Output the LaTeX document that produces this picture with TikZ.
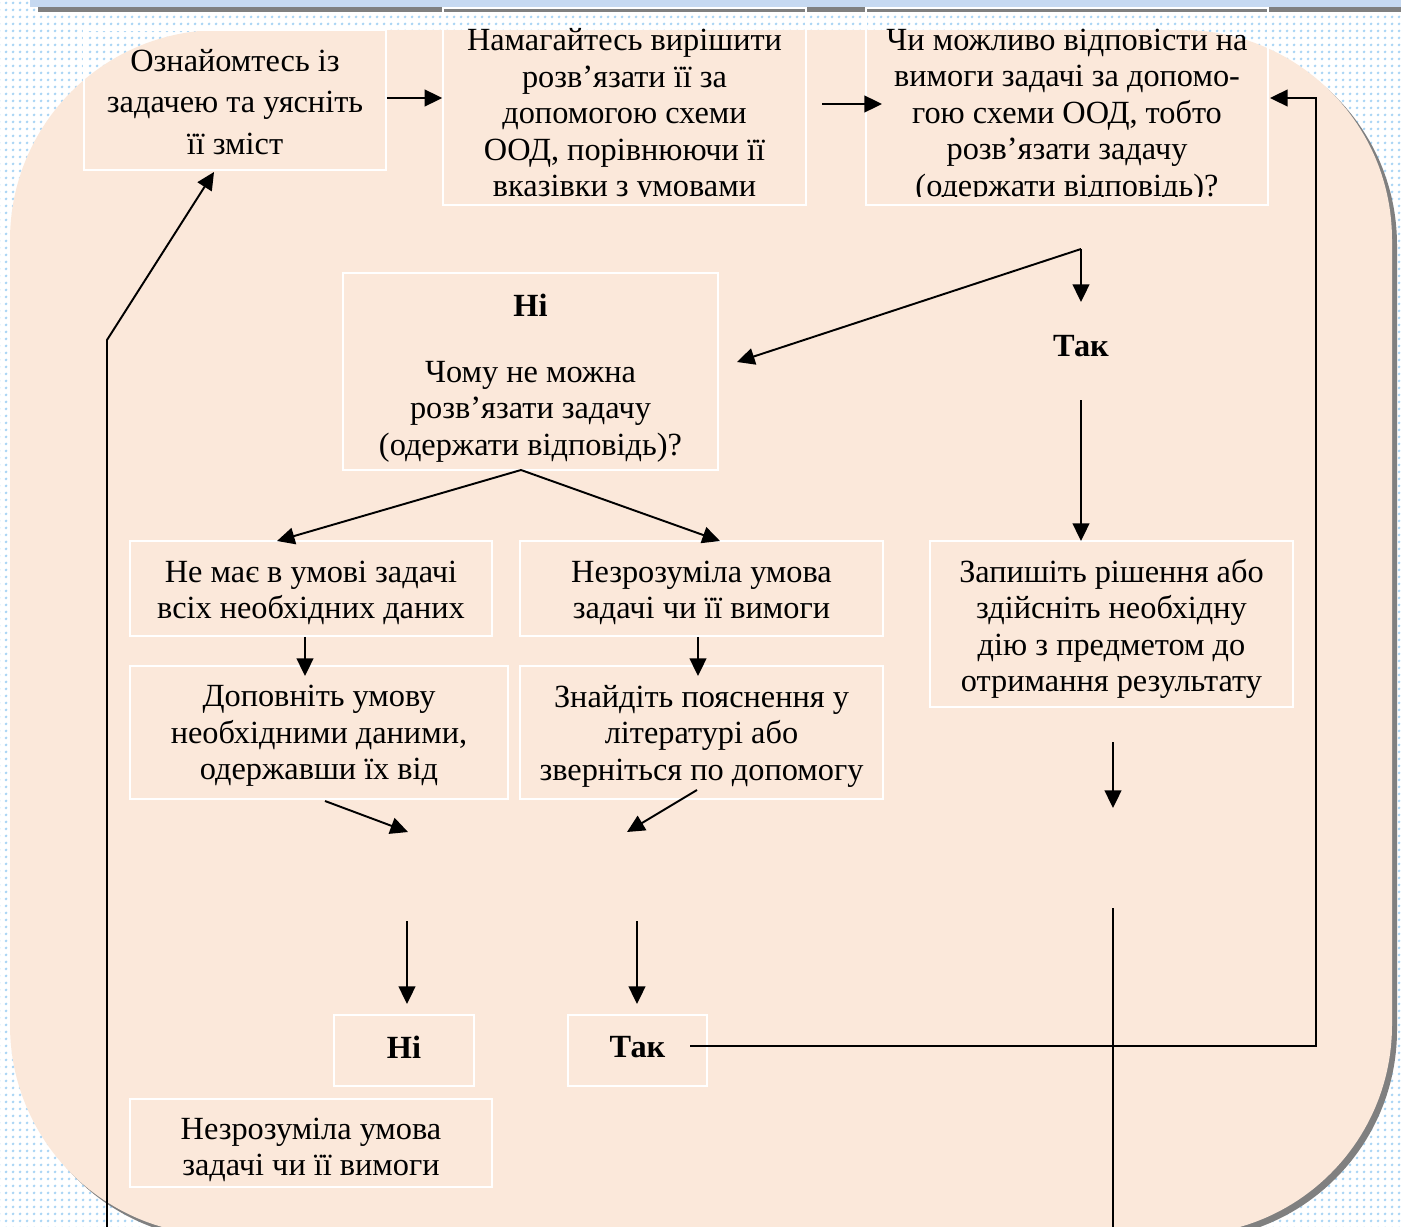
\documentclass[tikz,border=0pt]{standalone}
\usepackage{fontspec}
\setmainfont{Liberation Serif}
\usetikzlibrary{arrows.meta,patterns.meta}

\definecolor{peach}{HTML}{FBE8DA}
\definecolor{dotblue}{HTML}{A9D5F5}
\definecolor{barblue}{HTML}{C6D9F1}
\definecolor{bargrey}{HTML}{808080}

\tikzset{
  box/.style={draw=white, line width=0.9pt, inner sep=0pt},
  txt/.style={font=\fontsize{18.4}{20.8}\selectfont, align=center, inner sep=0pt, text=black},
  arr/.style={line width=1.1pt, -{Triangle[length=10pt,width=9.5pt]}},
  ln/.style={line width=1pt}
}

\begin{document}
\begin{tikzpicture}[x=0.02cm, y=-0.02cm]
            \useasboundingbox (0,0) rectangle (1401,1227);
            \clip (0,0) rectangle (1401,1227);

            % тло з крапками
            \fill[white] (0,0) rectangle (1401,1227);
            \fill[pattern={Dots[distance=4pt,radius=0.95pt]}, pattern color=dotblue] (0,0) rectangle (1401,1227);

            % смуги вгорі
            \fill[barblue] (30,0) rectangle (1401,7);
            \fill[bargrey] (38,7) rectangle (1401,11.5);

            % велика заокруглена панель з тінню
            \fill[bargrey, rounded corners=4.2cm] (15,35) rectangle (1397,1240);
            \fill[peach, rounded corners=4.2cm] (10,30) rectangle (1392,1235);

            % рамки
            \node[box, minimum width=6.04cm, minimum height=2.8cm] (read) at (235,100) {};
            \node[box, minimum width=7.26cm, minimum height=3.94cm] (try) at (624.5,106.5) {};
            \node[box, minimum width=8.04cm, minimum height=3.94cm] (ask) at (1067,106.5) {};
            \node[box, minimum width=7.5cm, minimum height=3.94cm] (why) at (530.5,371.5) {};
            \node[box, minimum width=7.24cm, minimum height=1.9cm] (lack) at (311,588.5) {};
            \node[box, minimum width=7.26cm, minimum height=1.9cm] (vague) at (701.5,588.5) {};
            \node[box, minimum width=7.56cm, minimum height=2.66cm] (add) at (319,732.5) {};
            \node[box, minimum width=7.26cm, minimum height=2.66cm] (find) at (701.5,732.5) {};
            \node[box, minimum width=7.26cm, minimum height=3.32cm] (write) at (1111.5,624) {};
            \node[box, minimum width=2.8cm, minimum height=1.42cm] (no) at (404,1050.5) {};
            \node[box, minimum width=2.78cm, minimum height=1.42cm] (yes) at (637.5,1050.5) {};
            \node[box, minimum width=7.24cm, minimum height=1.76cm] (vaguetwo) at (311,1143) {};

            % тексти
            \node[txt, font=\fontsize{18.4}{23.5}\selectfont] (readtxt) at (235,102) {Ознайомтесь із\\задачею та уясніть\\її зміст};
            \begin{scope}
              \clip (443,8) rectangle (806,196);
              \node[txt] (trytxt) at (624.5,116) {Намагайтесь вирішити\\розв’язати її за\\допомогою схеми\\ООД, порівнюючи її\\вказівки з умовами};
            \end{scope}
            \begin{scope}
              \clip (866,8) rectangle (1268,196);
              \node[txt] (asktxt) at (1067,116) {Чи можливо відповісти на\\вимоги задачі за допомо-\\гою схеми ООД, тобто\\розв’язати задачу\\(одержати відповідь)?};
            \end{scope}
            \begin{scope}
              \clip (343,273) rectangle (718,470);
              \node[txt] (whytxt) at (530.5,378) {\textbf{Ні}\\[17pt]Чому не можна\\розв’язати задачу\\(одержати відповідь)?};
            \end{scope}
            \node[txt, font=\fontsize{18.4}{20.8}\selectfont\bfseries] (sotxt) at (1081,346) {Так};
            \node[txt] (lacktxt) at (311,593) {Не має в умові задачі\\всіх необхідних даних};
            \node[txt] (vaguetxt) at (701.5,593) {Незрозуміла умова\\задачі чи її вимоги};
            \node[txt] (addtxt) at (319,736) {Доповніть умову\\необхідними даними,\\одержавши їх від};
            \node[txt] (findtxt) at (701.5,736) {Знайдіть пояснення у\\літературі або\\зверніться по допомогу};
            \node[txt] (writetxt) at (1111.5,629) {Запишіть рішення або\\здійсніть необхідну\\дію з предметом до\\отримання результату};
            \node[txt, font=\fontsize{18.4}{20.8}\selectfont\bfseries] (notxt) at (404,1047) {Ні};
            \node[txt, font=\fontsize{18.4}{20.8}\selectfont\bfseries] (yestxt) at (637.5,1047) {Так};
            \node[txt] (vaguetwotxt) at (311,1150) {Незрозуміла умова\\задачі чи її вимоги};

            % точки для стрілок
            \coordinate (tryout) at (822,104);
            \coordinate (askin) at (882,104);
            \coordinate (fork) at (1081,249);
            \coordinate (forkno) at (737,362);
            \coordinate (forkyes) at (1081,302);
            \coordinate (sofrom) at (1081,400);
            \coordinate (soto) at (1081,541);
            \coordinate (split) at (521,470);
            \coordinate (splitl) at (277,541);
            \coordinate (splitr) at (720,541);
            \coordinate (addin) at (305,676);
            \coordinate (findin) at (698,676);
            \coordinate (addout) at (325,801);
            \coordinate (addend) at (408,832);
            \coordinate (findout) at (697,790);
            \coordinate (findend) at (627,832);
            \coordinate (nofrom) at (407,921);
            \coordinate (noto) at (407,1004);
            \coordinate (yesfrom) at (637,921);
            \coordinate (yesto) at (637,1004);
            \coordinate (yesout) at (690,1046);
            \coordinate (loopc) at (1316,1046);
            \coordinate (loopup) at (1316,98);
            \coordinate (askback) at (1270,98);
            \coordinate (writeout) at (1113,742);
            \coordinate (writeend) at (1113,808);
            \coordinate (downfrom) at (1113,908);
            \coordinate (downto) at (1113,1240);
            \coordinate (leftlow) at (107,1240);
            \coordinate (leftbend) at (107,340);
            \coordinate (readin) at (214,172);

            % стрілки
            \draw[arr] (read.east |- 0,98) -- (try.west |- 0,98);
            \draw[arr] (tryout) -- (askin);
            \draw[arr] (fork) -- (forkno);
            \draw[arr] (fork) -- (forkyes);
            \draw[arr] (sofrom) -- (soto);
            \draw[arr] (split) -- (splitl);
            \draw[arr] (split) -- (splitr);
            \draw[arr] (lack.south -| addin) -- (addin);
            \draw[arr] (vague.south -| findin) -- (findin);
            \draw[arr] (addout) -- (addend);
            \draw[arr] (findout) -- (findend);
            \draw[arr] (nofrom) -- (noto);
            \draw[arr] (yesfrom) -- (yesto);
            \draw[arr] (yesout) -- (loopc) -- (loopup) -- (askback);
            \draw[arr] (writeout) -- (writeend);
            \draw[ln] (downfrom) -- (downto);
            \draw[arr] (leftlow) -- (leftbend) -- (readin);
        \end{tikzpicture}
\end{document}
